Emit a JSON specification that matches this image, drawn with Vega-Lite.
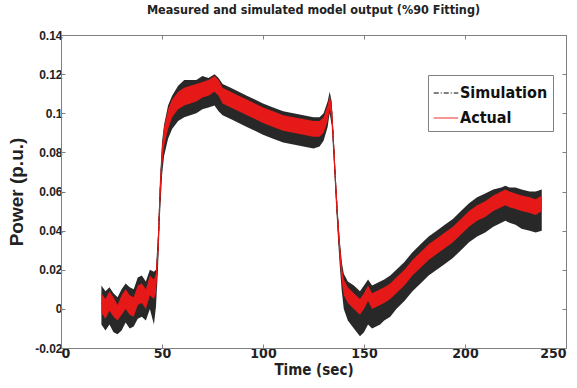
{
  "$schema": "https://vega.github.io/schema/vega-lite/v6.json",
  "width": 505,
  "height": 313,
  "autosize": {"type": "none"},
  "padding": {"left": 61, "top": 35, "right": 11, "bottom": 40},
  "background": "white",
  "title": {
    "text": "Measured and simulated model output (%90 Fitting)",
    "font": "DejaVu Sans Condensed",
    "fontSize": 12.5,
    "fontWeight": "bold",
    "color": "#222222",
    "anchor": "middle",
    "offset": 13
  },
  "data": {
    "values": [
      {"t": 20, "c": 0.003, "slo": -0.008, "shi": 0.012, "alo": -0.002, "ahi": 0.008},
      {"t": 22, "c": 0.0, "slo": -0.011, "shi": 0.009, "alo": -0.005, "ahi": 0.005},
      {"t": 24, "c": 0.004, "slo": -0.008, "shi": 0.011, "alo": -0.001, "ahi": 0.009},
      {"t": 26, "c": 0.001, "slo": -0.012, "shi": 0.008, "alo": -0.004, "ahi": 0.006},
      {"t": 28, "c": -0.002, "slo": -0.013, "shi": 0.006, "alo": -0.006, "ahi": 0.002},
      {"t": 30, "c": 0.002, "slo": -0.011, "shi": 0.01, "alo": -0.003, "ahi": 0.007},
      {"t": 32, "c": 0.005, "slo": -0.007, "shi": 0.013, "alo": 0.0, "ahi": 0.01},
      {"t": 34, "c": 0.002, "slo": -0.01, "shi": 0.011, "alo": -0.003, "ahi": 0.007},
      {"t": 36, "c": 0.001, "slo": -0.009, "shi": 0.01, "alo": -0.004, "ahi": 0.006},
      {"t": 38, "c": 0.007, "slo": -0.005, "shi": 0.016, "alo": 0.002, "ahi": 0.012},
      {"t": 40, "c": 0.008, "slo": -0.004, "shi": 0.017, "alo": 0.003, "ahi": 0.013},
      {"t": 42, "c": 0.005, "slo": -0.006, "shi": 0.014, "alo": 0.0, "ahi": 0.01},
      {"t": 44, "c": 0.012, "slo": 0.0, "shi": 0.02, "alo": 0.007, "ahi": 0.017},
      {"t": 46, "c": 0.01, "slo": -0.008, "shi": 0.019, "alo": 0.005, "ahi": 0.015},
      {"t": 47, "c": 0.013, "slo": 0.001, "shi": 0.02, "alo": 0.008, "ahi": 0.018},
      {"t": 48, "c": 0.03, "slo": 0.02, "shi": 0.038, "alo": 0.025, "ahi": 0.035},
      {"t": 49, "c": 0.058, "slo": 0.048, "shi": 0.066, "alo": 0.053, "ahi": 0.063},
      {"t": 50, "c": 0.078, "slo": 0.068, "shi": 0.085, "alo": 0.073, "ahi": 0.083},
      {"t": 51, "c": 0.088, "slo": 0.078, "shi": 0.094, "alo": 0.083, "ahi": 0.093},
      {"t": 53, "c": 0.097, "slo": 0.087, "shi": 0.104, "alo": 0.092, "ahi": 0.102},
      {"t": 55, "c": 0.102, "slo": 0.092, "shi": 0.109, "alo": 0.098, "ahi": 0.107},
      {"t": 58, "c": 0.106, "slo": 0.096, "shi": 0.114, "alo": 0.102, "ahi": 0.111},
      {"t": 61, "c": 0.108, "slo": 0.098, "shi": 0.117, "alo": 0.104, "ahi": 0.113},
      {"t": 64, "c": 0.109, "slo": 0.099, "shi": 0.117, "alo": 0.105, "ahi": 0.114},
      {"t": 67, "c": 0.11, "slo": 0.1, "shi": 0.117, "alo": 0.106, "ahi": 0.115},
      {"t": 70, "c": 0.112, "slo": 0.102, "shi": 0.119, "alo": 0.108, "ahi": 0.116},
      {"t": 73, "c": 0.113, "slo": 0.103, "shi": 0.118, "alo": 0.109, "ahi": 0.117},
      {"t": 76, "c": 0.115, "slo": 0.104, "shi": 0.12, "alo": 0.111, "ahi": 0.119},
      {"t": 78, "c": 0.113, "slo": 0.101, "shi": 0.118, "alo": 0.109, "ahi": 0.117},
      {"t": 80, "c": 0.109, "slo": 0.099, "shi": 0.115, "alo": 0.105, "ahi": 0.113},
      {"t": 84, "c": 0.107, "slo": 0.097, "shi": 0.113, "alo": 0.103, "ahi": 0.111},
      {"t": 88, "c": 0.105, "slo": 0.095, "shi": 0.111, "alo": 0.101, "ahi": 0.109},
      {"t": 92, "c": 0.103, "slo": 0.093, "shi": 0.109, "alo": 0.099, "ahi": 0.107},
      {"t": 96, "c": 0.101, "slo": 0.091, "shi": 0.107, "alo": 0.097, "ahi": 0.105},
      {"t": 100, "c": 0.099, "slo": 0.089, "shi": 0.105, "alo": 0.095, "ahi": 0.103},
      {"t": 105, "c": 0.097, "slo": 0.087, "shi": 0.103, "alo": 0.093, "ahi": 0.101},
      {"t": 110, "c": 0.095, "slo": 0.085, "shi": 0.101, "alo": 0.091, "ahi": 0.099},
      {"t": 115, "c": 0.094, "slo": 0.084, "shi": 0.1, "alo": 0.09, "ahi": 0.098},
      {"t": 120, "c": 0.093, "slo": 0.083, "shi": 0.099, "alo": 0.089, "ahi": 0.097},
      {"t": 125, "c": 0.092, "slo": 0.082, "shi": 0.098, "alo": 0.088, "ahi": 0.096},
      {"t": 128, "c": 0.092, "slo": 0.083, "shi": 0.098, "alo": 0.088, "ahi": 0.096},
      {"t": 130, "c": 0.094, "slo": 0.086, "shi": 0.1, "alo": 0.09, "ahi": 0.098},
      {"t": 132, "c": 0.1, "slo": 0.093, "shi": 0.106, "alo": 0.096, "ahi": 0.104},
      {"t": 133, "c": 0.106, "slo": 0.1, "shi": 0.111, "alo": 0.102, "ahi": 0.109},
      {"t": 134, "c": 0.101, "slo": 0.094, "shi": 0.106, "alo": 0.097, "ahi": 0.104},
      {"t": 135, "c": 0.083, "slo": 0.076, "shi": 0.088, "alo": 0.079, "ahi": 0.087},
      {"t": 136, "c": 0.063, "slo": 0.056, "shi": 0.068, "alo": 0.059, "ahi": 0.067},
      {"t": 137, "c": 0.045, "slo": 0.038, "shi": 0.05, "alo": 0.041, "ahi": 0.049},
      {"t": 138, "c": 0.03, "slo": 0.022, "shi": 0.035, "alo": 0.026, "ahi": 0.034},
      {"t": 139, "c": 0.018, "slo": 0.009, "shi": 0.024, "alo": 0.014, "ahi": 0.022},
      {"t": 140, "c": 0.011, "slo": 0.0, "shi": 0.018, "alo": 0.007, "ahi": 0.015},
      {"t": 142, "c": 0.007, "slo": -0.006, "shi": 0.014, "alo": 0.003, "ahi": 0.011},
      {"t": 145, "c": 0.004, "slo": -0.01, "shi": 0.012, "alo": 0.0, "ahi": 0.008},
      {"t": 148, "c": 0.001, "slo": -0.014, "shi": 0.009, "alo": -0.003, "ahi": 0.005},
      {"t": 150, "c": 0.004, "slo": -0.012, "shi": 0.012, "alo": 0.0, "ahi": 0.008},
      {"t": 152, "c": 0.008, "slo": -0.008, "shi": 0.015, "alo": 0.004, "ahi": 0.012},
      {"t": 154, "c": 0.004, "slo": -0.01, "shi": 0.012, "alo": 0.0, "ahi": 0.008},
      {"t": 156, "c": 0.005, "slo": -0.009, "shi": 0.013, "alo": 0.001, "ahi": 0.009},
      {"t": 158, "c": 0.006, "slo": -0.008, "shi": 0.014, "alo": 0.002, "ahi": 0.01},
      {"t": 160, "c": 0.007, "slo": -0.006, "shi": 0.015, "alo": 0.003, "ahi": 0.011},
      {"t": 163, "c": 0.009, "slo": -0.004, "shi": 0.017, "alo": 0.005, "ahi": 0.013},
      {"t": 166, "c": 0.012, "slo": 0.0, "shi": 0.02, "alo": 0.008, "ahi": 0.016},
      {"t": 170, "c": 0.016, "slo": 0.004, "shi": 0.024, "alo": 0.012, "ahi": 0.02},
      {"t": 174, "c": 0.021, "slo": 0.009, "shi": 0.029, "alo": 0.017, "ahi": 0.025},
      {"t": 178, "c": 0.025, "slo": 0.013, "shi": 0.033, "alo": 0.021, "ahi": 0.029},
      {"t": 182, "c": 0.029, "slo": 0.017, "shi": 0.037, "alo": 0.025, "ahi": 0.033},
      {"t": 186, "c": 0.032, "slo": 0.02, "shi": 0.04, "alo": 0.028, "ahi": 0.036},
      {"t": 190, "c": 0.035, "slo": 0.023, "shi": 0.043, "alo": 0.031, "ahi": 0.039},
      {"t": 194, "c": 0.038, "slo": 0.026, "shi": 0.046, "alo": 0.034, "ahi": 0.042},
      {"t": 198, "c": 0.042, "slo": 0.03, "shi": 0.05, "alo": 0.038, "ahi": 0.046},
      {"t": 202, "c": 0.046, "slo": 0.034, "shi": 0.054, "alo": 0.042, "ahi": 0.05},
      {"t": 206, "c": 0.049, "slo": 0.037, "shi": 0.057, "alo": 0.045, "ahi": 0.053},
      {"t": 210, "c": 0.051, "slo": 0.039, "shi": 0.059, "alo": 0.047, "ahi": 0.055},
      {"t": 214, "c": 0.054, "slo": 0.042, "shi": 0.061, "alo": 0.05, "ahi": 0.058},
      {"t": 218, "c": 0.056, "slo": 0.044, "shi": 0.062, "alo": 0.052, "ahi": 0.06},
      {"t": 220, "c": 0.057, "slo": 0.045, "shi": 0.063, "alo": 0.053, "ahi": 0.061},
      {"t": 222, "c": 0.056, "slo": 0.044, "shi": 0.062, "alo": 0.052, "ahi": 0.06},
      {"t": 225, "c": 0.055, "slo": 0.043, "shi": 0.062, "alo": 0.051, "ahi": 0.059},
      {"t": 228, "c": 0.054, "slo": 0.041, "shi": 0.061, "alo": 0.05, "ahi": 0.058},
      {"t": 232, "c": 0.053, "slo": 0.04, "shi": 0.06, "alo": 0.049, "ahi": 0.057},
      {"t": 235, "c": 0.052, "slo": 0.039, "shi": 0.06, "alo": 0.048, "ahi": 0.056},
      {"t": 238, "c": 0.054, "slo": 0.04, "shi": 0.061, "alo": 0.05, "ahi": 0.058}
    ]
  },
  "resolve": {"axis": {"x": "independent", "y": "independent"}},
  "layer": [
    {
      "mark": {"type": "area", "color": "#111111", "opacity": 0.9},
      "encoding": {
        "x": {
          "field": "t", "type": "quantitative",
          "scale": {"domain": [0, 250], "nice": false},
          "axis": {
            "values": [0, 50, 100, 150, 200, 250],
            "title": "Time (sec)",
            "labelFont": "DejaVu Sans Condensed",
            "labelFontSize": 14,
            "labelFontWeight": "bold",
            "labelPadding": 2,
            "titleFont": "DejaVu Sans Condensed",
            "titleFontSize": 15,
            "titleFontWeight": "bold",
            "titlePadding": 2
          }
        },
        "y": {
          "field": "slo", "type": "quantitative",
          "scale": {"domain": [-0.02, 0.14], "nice": false, "zero": false},
          "axis": {
            "values": [-0.02, 0, 0.02, 0.04, 0.06, 0.08, 0.1, 0.12, 0.14],
            "labelExpr": "replace(format(datum.value, '~g'), '\u2212', '-')",
            "title": "Power (p.u.)",
            "labelFont": "Liberation Sans",
            "labelFontSize": 12,
            "labelFontWeight": "bold",
            "labelPadding": 3,
            "titleFont": "Liberation Sans",
            "titleFontSize": 19,
            "titleFontWeight": "bold",
            "titlePadding": 8
          }
        },
        "y2": {"field": "shi"}
      }
    },
    {
      "mark": {"type": "line", "strokeWidth": 1},
      "encoding": {
        "x": {"field": "t", "type": "quantitative", "axis": null},
        "y": {"field": "c", "type": "quantitative", "axis": null},
        "color": {"datum": "Simulation"},
        "strokeDash": {"datum": "Simulation"}
      }
    },
    {
      "mark": {"type": "area", "color": "#f01818", "opacity": 0.95},
      "encoding": {
        "x": {"field": "t", "type": "quantitative", "axis": null},
        "y": {"field": "alo", "type": "quantitative", "axis": null},
        "y2": {"field": "ahi"}
      }
    },
    {
      "mark": {"type": "line", "strokeWidth": 1},
      "encoding": {
        "x": {
          "field": "t", "type": "quantitative",
          "axis": {"orient": "top", "values": [0, 50, 100, 150, 200, 250], "labels": false, "domain": false, "title": null}
        },
        "y": {
          "field": "c", "type": "quantitative",
          "axis": {"orient": "right", "values": [-0.02, 0, 0.02, 0.04, 0.06, 0.08, 0.1, 0.12, 0.14], "labels": false, "domain": false, "title": null}
        },
        "color": {
          "datum": "Actual",
          "scale": {"domain": ["Simulation", "Actual"], "range": ["#000000", "#f01818"]},
          "legend": {
            "title": null,
            "orient": "none",
            "legendX": 367,
            "legendY": 40,
            "direction": "vertical",
            "symbolType": "stroke",
            "symbolSize": 600,
            "symbolStrokeWidth": 1,
            "labelFont": "DejaVu Sans Condensed",
            "labelFontSize": 16,
            "labelFontWeight": "bold",
            "labelColor": "#111111",
            "labelOffset": 1,
            "rowPadding": 4,
            "padding": 5,
            "strokeColor": "#808080",
            "fillColor": "white",
            "cornerRadius": 0
          }
        },
        "strokeDash": {
          "datum": "Actual",
          "scale": {"domain": ["Simulation", "Actual"], "range": [[5, 2, 1, 2], [1, 0]]},
          "legend": {
            "title": null,
            "orient": "none",
            "legendX": 367,
            "legendY": 40,
            "direction": "vertical",
            "symbolType": "stroke",
            "symbolSize": 600,
            "symbolStrokeWidth": 1,
            "labelFont": "DejaVu Sans Condensed",
            "labelFontSize": 16,
            "labelFontWeight": "bold",
            "labelColor": "#111111",
            "labelOffset": 1,
            "rowPadding": 4,
            "padding": 5,
            "strokeColor": "#808080",
            "fillColor": "white",
            "cornerRadius": 0
          }
        }
      }
    }
  ],
  "config": {
    "view": {"stroke": "#808080", "strokeWidth": 1},
    "axis": {
      "grid": false,
      "domainColor": "#808080",
      "tickColor": "#808080",
      "tickSize": -4,
      "labelColor": "#222222",
      "titleColor": "#222222"
    }
  }
}
